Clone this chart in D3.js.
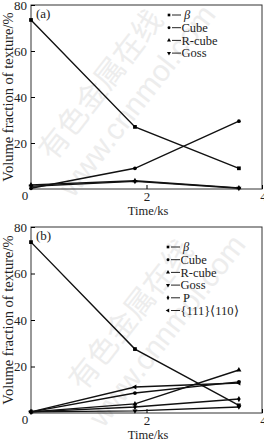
<!DOCTYPE html>
<html>
<head>
<meta charset="utf-8">
<script src="https://cdn.jsdelivr.net/npm/d3@7"></script>
<style>
  body { margin: 0; background: #fff; }
  svg { display: block; font-family: "Liberation Serif", "Times New Roman", serif; }
</style>
</head>
<body>
<div id="chart"></div>
<script>
// time points (ks)
var times = [0, 1.8, 3.6];
var xTicks = [2, 4];
var yTicks = [20, 40, 60, 80];

// panel (a)
var seriesA = ["β", "Cube", "R-cube", "Goss"];
var betaA = [73.5, 27, 9];
var cubeA = [0.3, 9, 29.5];
var rcubeA = [1.8, 3.6, 0.5];
var gossA = [1.2, 3.3, 0.3];

// panel (b)
var seriesB = ["β", "Cube", "R-cube", "Goss", "P", "{111}⟨110⟩"];
var betaB = [73.5, 27.5, 3.3];
var cubeB = [0.5, 8.6, 13.4];
var rcubeB = [0.5, 3.9, 18.5];
var gossB = [0.5, 0.9, 2.6];
var pB = [0.5, 2.6, 6];
var r111B = [0.5, 11.2, 12.9];

var W = 264, H = 439;
var svg = d3.select("#chart").append("svg").attr("width", W).attr("height", H);

var symbols = [d3.symbolSquare, d3.symbolCircle, d3.symbolTriangle, "tridown", d3.symbolDiamond, "trileft"];

function marker(g, type, x, y, s) {
    if (type === "tridown" || type === "trileft") {
        g.append("path")
            .attr("d", d3.symbol().type(d3.symbolTriangle).size(s)())
            .attr("transform", "translate(" + x + "," + y + ") rotate(" + (type === "tridown" ? 180 : -90) + ")")
            .attr("fill", "#000");
    } else {
        g.append("path")
            .attr("d", d3.symbol().type(type).size(s)())
            .attr("transform", "translate(" + x + "," + y + ")")
            .attr("fill", "#000");
    }
}

function drawPanel(top, bottom, label, names, data, legX, legY) {
    var x = d3.scaleLinear().domain([0, 4]).range([31, 262]);
    var y = d3.scaleLinear().domain([0, 80]).range([bottom, top]);
    var g = svg.append("g");

    // frame
    g.append("rect").attr("x", 31).attr("y", top).attr("width", 231).attr("height", bottom - top)
        .attr("fill", "none").attr("stroke", "#333").attr("stroke-width", 1);

    var yAxis = g.append("g").attr("transform", "translate(31,0)")
        .call(d3.axisRight(y).tickValues(yTicks).tickSize(4).tickFormat(d3.format("d")));
    yAxis.select(".domain").remove();
    yAxis.selectAll("text").attr("x", -4).attr("text-anchor", "end")
        .style("font-size", "13px").style("font-family", "Liberation Serif").attr("fill", "#222");

    var xAxis = g.append("g").attr("transform", "translate(0," + bottom + ")")
        .call(d3.axisTop(x).tickValues(xTicks).tickSize(4).tickFormat(d3.format("d")));
    xAxis.select(".domain").remove();
    xAxis.selectAll("text").attr("y", 12).attr("dy", "0")
        .style("font-size", "13px").style("font-family", "Liberation Serif").attr("fill", "#222");
    xAxis.selectAll(".tick:last-of-type text").attr("dx", 1);

    g.append("text").attr("x", 25).attr("y", bottom + 11).attr("text-anchor", "middle")
        .style("font-size", "13px").attr("fill", "#222").text("0");

    g.append("text").attr("x", 148).attr("y", bottom + 26).attr("text-anchor", "middle")
        .style("font-size", "12.5px").attr("fill", "#222").text("Time/ks");

    g.append("text").attr("transform", "translate(13," + ((top + bottom) / 2) + ") rotate(-90)")
        .attr("text-anchor", "middle").style("font-size", "14.5px").attr("fill", "#222")
        .text("Volume fraction of texture/%");

    g.append("text").attr("x", 36).attr("y", top + 13).style("font-size", "13px")
        .attr("fill", "#222").text(label);

    var line = d3.line().x(function (d, i) { return x(times[i]); }).y(function (d) { return y(d); });

    data.forEach(function (vals, k) {
        g.append("path").datum(vals).attr("d", line)
            .attr("fill", "none").attr("stroke", "#111").attr("stroke-width", 1.4);
        vals.forEach(function (v, i) {
            marker(g, symbols[k], x(times[i]), y(v), k === 0 ? 14 : 11);
        });
    });

    // legend
    var leg = g.append("g");
    names.forEach(function (n, k) {
        var yy = legY + k * 12.7;
        marker(leg, symbols[k], legX, yy, 7);
        leg.append("line").attr("x1", legX + 3).attr("x2", legX + 12).attr("y1", yy).attr("y2", yy)
            .attr("stroke", "#222").attr("stroke-width", 1);
        leg.append("text").attr("x", legX + (k === 0 || k === 4 ? 15 : 12.5)).attr("y", yy).attr("dy", "0.35em")
            .style("font-size", "12.5px").style("font-style", k === 0 ? "italic" : "normal")
            .attr("fill", "#222").text(n);
    });
}

// faint watermark
function watermark(cx, cy) {
    var w = svg.append("g").attr("transform", "translate(" + cx + "," + cy + ") rotate(-52)")
        .attr("fill", "#ededed").style("font-family", "Noto Sans CJK SC");
    w.append("text").attr("x", 0).attr("y", -14).attr("text-anchor", "middle")
        .style("font-size", "30px").text("有色金属在线");
    w.append("text").attr("x", 10).attr("y", 24).attr("text-anchor", "middle")
        .style("font-size", "30px").style("font-family", "Liberation Sans").text("www.cnnmol.com");
}
watermark(120, 100);
watermark(150, 330);

drawPanel(5, 189, "(a)", seriesA, [betaA, cubeA, rcubeA, gossA], 169, 15);
drawPanel(227, 413, "(b)", seriesB, [betaB, cubeB, rcubeB, gossB, pB, r111B], 168, 247);
</script>
</body>
</html>
